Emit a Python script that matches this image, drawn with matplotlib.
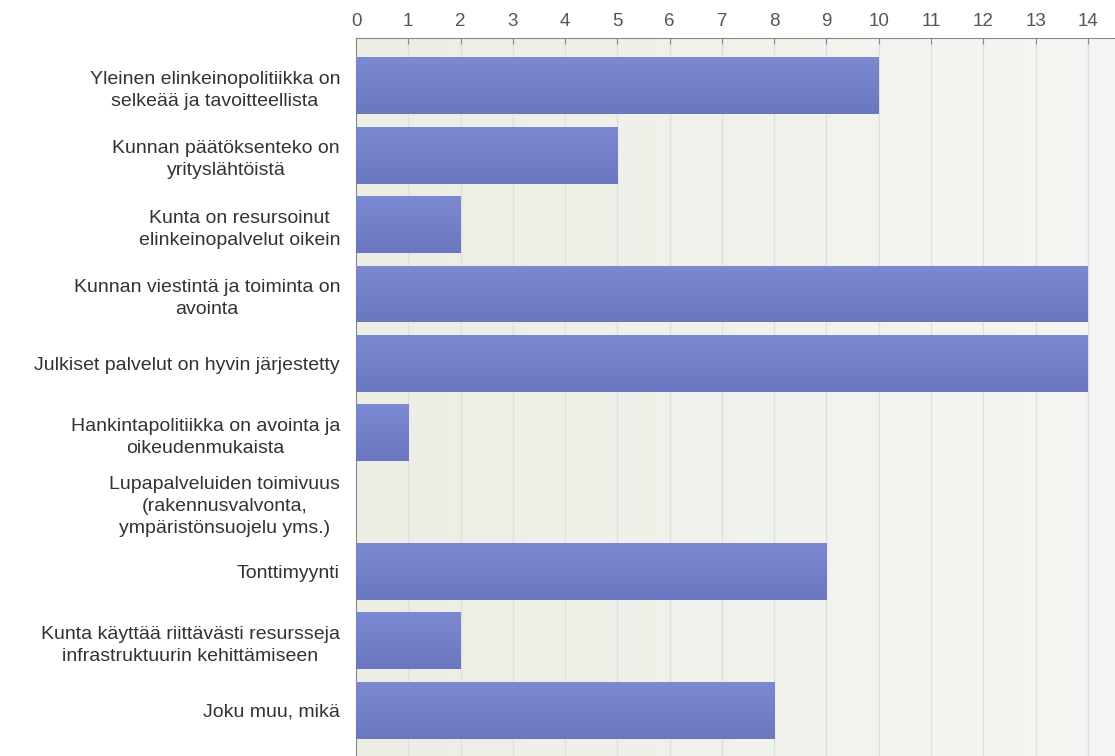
import numpy as np
import matplotlib
matplotlib.use('Agg')
import matplotlib.pyplot as plt
from matplotlib.colors import LinearSegmentedColormap

plt.rcParams['font.family'] = ['Liberation Sans', 'DejaVu Sans']

labels = [
    'Yleinen elinkeinopolitiikka on\nselkeää ja tavoitteellista',
    'Kunnan päätöksenteko on\nyrityslähtöistä',
    'Kunta on resursoinut\nelinkeinopalvelut oikein',
    'Kunnan viestintä ja toiminta on\navointa',
    'Julkiset palvelut on hyvin järjestetty',
    'Hankintapolitiikka on avointa ja\noikeudenmukaista',
    'Lupapalveluiden toimivuus\n(rakennusvalvonta,\nympäristönsuojelu yms.)',
    'Tonttimyynti',
    'Kunta käyttää riittävästi resursseja\ninfrastruktuurin kehittämiseen',
    'Joku muu, mikä',
]
values = [10, 5, 2, 14, 14, 1, 0, 9, 2, 8]
ticks = list(range(0, 15))

fig = plt.figure(figsize=(11.15, 7.56), dpi=100)
ax = fig.add_axes([356 / 1115, 0.0, 1 - 356 / 1115, 1 - 38 / 756])

y = np.arange(len(labels))
ax.set_xlim(0, 14.52)
ax.set_ylim(len(labels) - 1 + 0.66, -0.69)

# background gradient (greenish left -> lighter right)
bg = LinearSegmentedColormap.from_list('bg', ['#eceee4', '#f5f6f3'])
ax.imshow(np.linspace(0, 1, 256).reshape(1, -1), cmap=bg, aspect='auto',
          extent=[0, 14.52, len(labels) - 1 + 0.66, -0.69], zorder=0)

for t in ticks[1:]:
    ax.axvline(t, color='#dfe0dd', lw=1, zorder=1)

bar_cmap = LinearSegmentedColormap.from_list('bar', ['#7d89d3', '#6a76bf'])
bars = ax.barh(y, values, height=0.82, color='#7480c9', zorder=2)
for b in bars:
    if b.get_width() == 0:
        continue
    x0, y0 = b.get_x(), b.get_y()
    w, h = b.get_width(), b.get_height()
    im = ax.imshow(np.linspace(0, 1, 64).reshape(-1, 1), cmap=bar_cmap,
                   aspect='auto', extent=[x0, x0 + w, y0 + h, y0], zorder=3)
    im.set_clip_path(b)

ax.set_xlim(0, 14.52)
ax.set_ylim(len(labels) - 1 + 0.66, -0.69)

ax.xaxis.tick_top()
ax.set_xticks(ticks)
ax.tick_params(axis='x', colors='#888888', labelcolor='#555555', labelsize=13.5,
               direction='in', length=4, pad=6)
ax.set_yticks(y)
ax.set_yticklabels(labels, fontsize=14, color='#333333', multialignment='center',
                   linespacing=1.4)
ax.tick_params(axis='y', length=0, pad=11.5)

for side in ['right', 'bottom']:
    ax.spines[side].set_visible(False)
ax.spines['top'].set_color('#888888')
ax.spines['left'].set_color('#888888')

fig.savefig('out.png', dpi=100, facecolor='white')
